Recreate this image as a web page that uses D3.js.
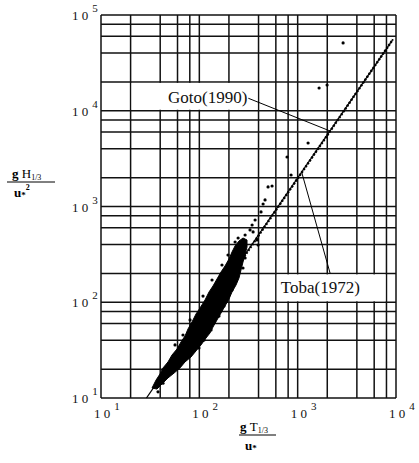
<!DOCTYPE html>
<html lang="en">
<head>
  <meta charset="UTF-8" />
  <title>gH/u*^2 vs gT/u*</title>
  <script src="https://d3js.org/d3.v7.min.js"></script>
  <style>
    body {
      margin: 0;
      background: #fff;
    }
    svg {
      display: block;
      font-family: "Liberation Serif", "DejaVu Serif", serif;
    }
    line.grid {
      stroke: #111;
      stroke-width: 1.5;
    }
    text.tick {
      font-size: 13px;
      fill: #111;
    }
    text.note {
      font-size: 17px;
      fill: #111;
    }
  </style>
</head>
<body>

<svg width="419" height="463"></svg>

<script>
  // axis decades and grid multipliers
  const xExp = [1, 2, 3, 4];
  const yExp = [1, 2, 3, 4, 5];
  const gridMult = [1, 2, 4, 6, 8];

  // dense core of the data cloud (outline), [gT/u*, gH/u*^2]
  const cloudT = [33.0, 36.3, 39.8, 42.7, 48.0, 52.7, 59.3, 65.1, 71.5, 76.7, 84.2, 92.5, 101.6, 114.2,
                  125.4, 137.7, 151.2, 166.1, 182.4, 200.3, 214.9, 230.6, 253.2, 278.1, 305.4,
                  305.4, 291.4, 278.1, 265.3, 253.2, 236.1, 214.9, 200.3, 182.4, 166.1, 151.2, 137.7,
                  128.3, 116.9, 104.0, 92.5, 82.3, 71.5, 63.6, 55.3, 48.0, 41.7, 37.1];
  const cloudH = [12.7, 15.4, 17.8, 20.6, 23.8, 28.1, 32.5, 38.5, 44.4, 52.6, 62.2, 75.4, 87.1, 105.6,
                  127.9, 147.8, 174.9, 207.0, 239.1, 283.0, 334.8, 386.9, 436.2, 468.8, 446.9,
                  377.6, 311.6, 263.3, 217.2, 179.2, 151.4, 127.9, 108.1, 91.4, 77.2, 65.3, 55.1,
                  47.7, 42.3, 35.8, 31.0, 26.8, 23.8, 20.6, 18.2, 16.2, 14.0, 12.4];

  // scattered observations
  const ptT = [2897, 1652, 1991, 1276, 780, 857, 500, 549, 466, 445, 424, 369, 344, 328, 352, 292,
               248, 231, 396, 386, 292, 278, 259, 196, 220, 205, 191, 174, 151, 128.5, 120, 106.5,
               94.8, 84.3, 71.6, 60.7, 46.9, 42.7, 38.0,
               80.4, 68.2, 56.6, 109, 134.6, 170, 195.7,
               214.9, 200.3, 178.2, 158.5, 141, 131.5, 111.6, 99.2, 78.5, 68.2, 52.7];
  const ptH = [51050, 17290, 18580, 4603, 3289, 2133, 1600, 1638, 1170, 1062, 877, 723, 641, 569, 542, 504,
               469, 426, 396, 447, 290, 228, 245, 171, 217, 171, 134, 101, 77.2, 55.1, 48.9, 45.5,
               37.5, 31.7, 25.6, 23.2, 17.4, 14.3, 11.6,
               65.3, 45.5, 35.8, 116, 170.8, 245, 311.6,
               134.3, 119, 91.4, 71.8, 62.2, 51.3, 40.3, 33.3, 27.5, 24.3, 19.1];

  // relations (end points)
  const tobaT = [29, 9300];
  const tobaH = [10, 55600];
  const gotoT = [180, 9300];
  const gotoH = [150, 55600];

  const svg = d3.select("svg");

  const x = d3.scaleLog().domain([1e1, 1e4]).range([101, 396]);
  const y = d3.scaleLog().domain([1e1, 1e5]).range([398, 15]);

  // grid
  const xGrid = [];
  xExp.slice(0, -1).forEach(e => gridMult.forEach(m => xGrid.push(m * Math.pow(10, e))));
  xGrid.push(1e4);
  const yGrid = [];
  yExp.slice(0, -1).forEach(e => gridMult.forEach(m => yGrid.push(m * Math.pow(10, e))));
  yGrid.push(1e5);

  const grid = svg.append("g");
  grid.selectAll("line.v").data(xGrid).enter().append("line")
    .attr("class", "grid")
    .attr("x1", d => x(d)).attr("x2", d => x(d))
    .attr("y1", y(1e1)).attr("y2", y(1e5));
  grid.selectAll("line.h").data(yGrid).enter().append("line")
    .attr("class", "grid")
    .attr("x1", x(1e1)).attr("x2", x(1e4))
    .attr("y1", d => y(d)).attr("y2", d => y(d));

  // label boxes blank out the grid
  const gotoBox = [20, 400, 1e4, 2e4];
  const tobaBox = [600, 8000, 100, 200];
  [gotoBox, tobaBox].forEach(b => {
    svg.append("rect")
      .attr("x", x(b[0]) + 1).attr("width", x(b[1]) - x(b[0]) - 2)
      .attr("y", y(b[3]) + 1).attr("height", y(b[2]) - y(b[3]) - 2)
      .attr("fill", "#fff");
  });

  // data cloud
  svg.append("path")
    .datum(d3.zip(cloudT, cloudH))
    .attr("d", d3.line().x(d => x(d[0])).y(d => y(d[1])).curve(d3.curveLinearClosed))
    .attr("fill", "#000").attr("stroke", "#000").attr("stroke-width", 1);

  svg.selectAll("circle.pt").data(d3.zip(ptT, ptH)).enter().append("circle")
    .attr("cx", d => x(d[0])).attr("cy", d => y(d[1]))
    .attr("r", 1.6).attr("fill", "#000");

  // Toba(1972) solid, Goto(1990) dotted on top
  const rel = d3.line().x(d => x(d[0])).y(d => y(d[1]));
  svg.append("path").datum(d3.zip(tobaT, tobaH)).attr("d", rel)
    .attr("stroke", "#000").attr("stroke-width", 1.3).attr("fill", "none");
  svg.append("path").datum(d3.zip(gotoT, gotoH)).attr("d", rel)
    .attr("stroke", "#000").attr("stroke-width", 2.4).attr("fill", "none")
    .attr("stroke-dasharray", "2,1.5");

  // annotations
  const gotoText = svg.append("text").attr("class", "note")
    .attr("x", 168).attr("y", y(1e4) - 8).text("Goto(1990)");
  const gb = gotoText.node().getBBox();
  svg.append("line")
    .attr("x1", gb.x + gb.width + 1).attr("y1", gb.y + gb.height / 2 + 1)
    .attr("x2", x(2140)).attr("y2", y(6140))
    .attr("stroke", "#000").attr("stroke-width", 1);

  svg.append("text").attr("class", "note")
    .attr("x", x(600) + 5).attr("y", y(100) - 9).text("Toba(1972)");
  svg.append("line")
    .attr("x1", x(2140)).attr("y1", y(200))
    .attr("x2", x(1100)).attr("y2", y(2270))
    .attr("stroke", "#000").attr("stroke-width", 1);

  // tick labels
  const yl = svg.selectAll("text.ytick").data(yExp).enter().append("text")
    .attr("class", "tick")
    .attr("x", 72).attr("y", d => y(Math.pow(10, d)) + 5);
  yl.append("tspan").text("1 0");
  yl.append("tspan").attr("dx", 4).attr("dy", -8).attr("font-size", 11).text(d => d);

  const xl = svg.selectAll("text.xtick").data(xExp).enter().append("text")
    .attr("class", "tick")
    .attr("x", d => x(Math.pow(10, d)) - 7).attr("y", 418);
  xl.append("tspan").text("1 0");
  xl.append("tspan").attr("dx", 4).attr("dy", -8).attr("font-size", 11).text(d => d);

  // axis titles
  const xt = svg.append("text").attr("x", 240).attr("y", 431).attr("font-size", 13);
  xt.append("tspan").attr("font-weight", "bold").text("g ");
  xt.append("tspan").text("T");
  xt.append("tspan").attr("font-size", 8).attr("dy", 2).text("1/3");
  svg.append("line").attr("x1", 239).attr("x2", 276).attr("y1", 435).attr("y2", 435)
    .attr("stroke", "#000").attr("stroke-width", 1);
  const xd = svg.append("text").attr("x", 245).attr("y", 450).attr("font-size", 13).attr("font-weight", "bold");
  xd.append("tspan").text("u");
  xd.append("tspan").attr("font-size", 9).attr("dy", 1).text("*");

  const yt = svg.append("text").attr("x", 12).attr("y", 178).attr("font-size", 13);
  yt.append("tspan").attr("font-weight", "bold").text("g ");
  yt.append("tspan").text("H");
  yt.append("tspan").attr("font-size", 8).attr("dy", 2).text("1/3");
  svg.append("line").attr("x1", 7).attr("x2", 55).attr("y1", 182).attr("y2", 182)
    .attr("stroke", "#000").attr("stroke-width", 1);
  const yd = svg.append("text").attr("x", 14).attr("y", 197).attr("font-size", 13).attr("font-weight", "bold");
  yd.append("tspan").text("u");
  yd.append("tspan").attr("font-size", 9).attr("dy", 1).text("*");
  yd.append("tspan").attr("font-size", 8).attr("dy", -8).text("2");
</script>

</body>
</html>
